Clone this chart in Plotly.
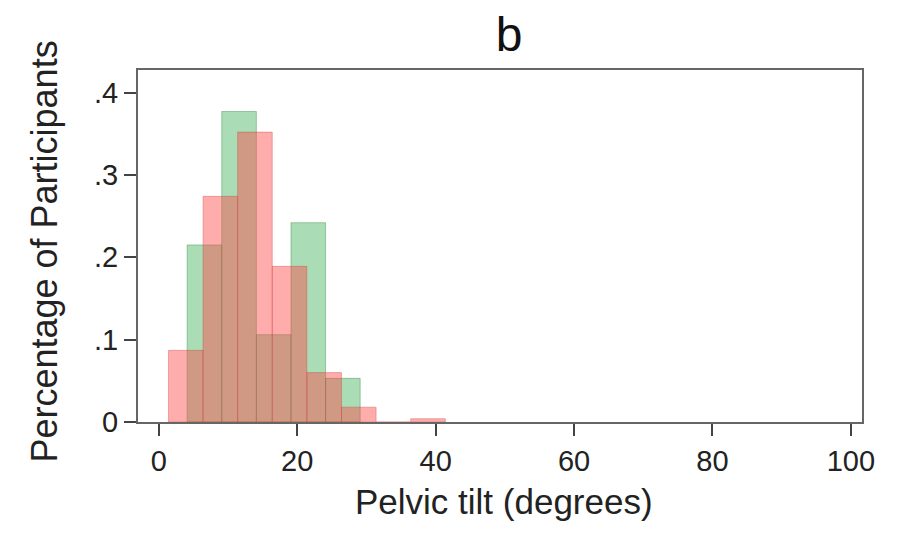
import plotly.graph_objects as go

# Bin left edges (degrees) and bin width
bin_width = 5.0
green_edges = [4.1, 9.1, 14.1, 19.1, 24.1]
green_vals = [0.215, 0.377, 0.106, 0.242, 0.053]
pink_edges = [1.4, 6.4, 11.4, 16.4, 21.4, 26.4, 31.4, 36.4]
pink_vals = [0.087, 0.274, 0.352, 0.189, 0.060, 0.018, 0.0, 0.004]

x_ticks = [0, 20, 40, 60, 80, 100]
y_ticks = [0, 0.1, 0.2, 0.3, 0.4]
y_tick_labels = ["0", ".1", ".2", ".3", ".4"]

title_text = "b"
x_title = "Pelvic tilt (degrees)"
y_title = "Percentage of Participants"

fig = go.Figure()
fig.add_trace(go.Bar(
    x=[e + bin_width / 2 for e in green_edges], y=green_vals, width=bin_width,
    marker=dict(color="rgba(20,160,50,0.36)", line=dict(color="rgba(20,120,40,0.35)", width=1)),
    showlegend=False,
))
fig.add_trace(go.Bar(
    x=[e + bin_width / 2 for e in pink_edges], y=pink_vals, width=bin_width,
    marker=dict(color="rgba(255,70,70,0.45)", line=dict(color="rgba(200,60,60,0.35)", width=1)),
    showlegend=False,
))

fig.update_layout(
    width=898, height=539,
    barmode="overlay",
    paper_bgcolor="white", plot_bgcolor="white",
    margin=dict(l=130, r=44, t=62, b=125, autoexpand=False),
    font=dict(family="Liberation Sans, Arial, sans-serif", color="#222", size=29),
    title=dict(text=title_text, x=0.558, xanchor="center", xref="container",
               y=0.952, yanchor="middle", yref="container",
               font=dict(size=48, color="#111")),
    xaxis=dict(range=[-3.0, 101.6], tickvals=x_ticks, ticks="outside", ticklen=12, tickwidth=1.5,
               tickcolor="#444", showline=True, linecolor="#666", linewidth=2, mirror=True,
               showgrid=False, zeroline=False, automargin=False,
               tickfont=dict(size=29)),
    yaxis=dict(range=[0, 0.4274], tickvals=y_ticks, ticktext=y_tick_labels, ticks="outside",
               ticklen=12, tickwidth=1.5, tickcolor="#444", showline=True, linecolor="#666",
               linewidth=2, mirror=True, showgrid=False, zeroline=False, automargin=False,
               tickfont=dict(size=29)),
    annotations=[
        dict(text=x_title, xref="paper", yref="paper", x=0.5055, y=-0.225,
             xanchor="center", yanchor="middle", showarrow=False, font=dict(size=35)),
        dict(text=y_title, xref="paper", yref="paper", x=-0.1285, y=0.484,
             xanchor="center", yanchor="middle", textangle=-90, showarrow=False,
             font=dict(size=36)),
    ],
)

fig.write_html("out.html")
